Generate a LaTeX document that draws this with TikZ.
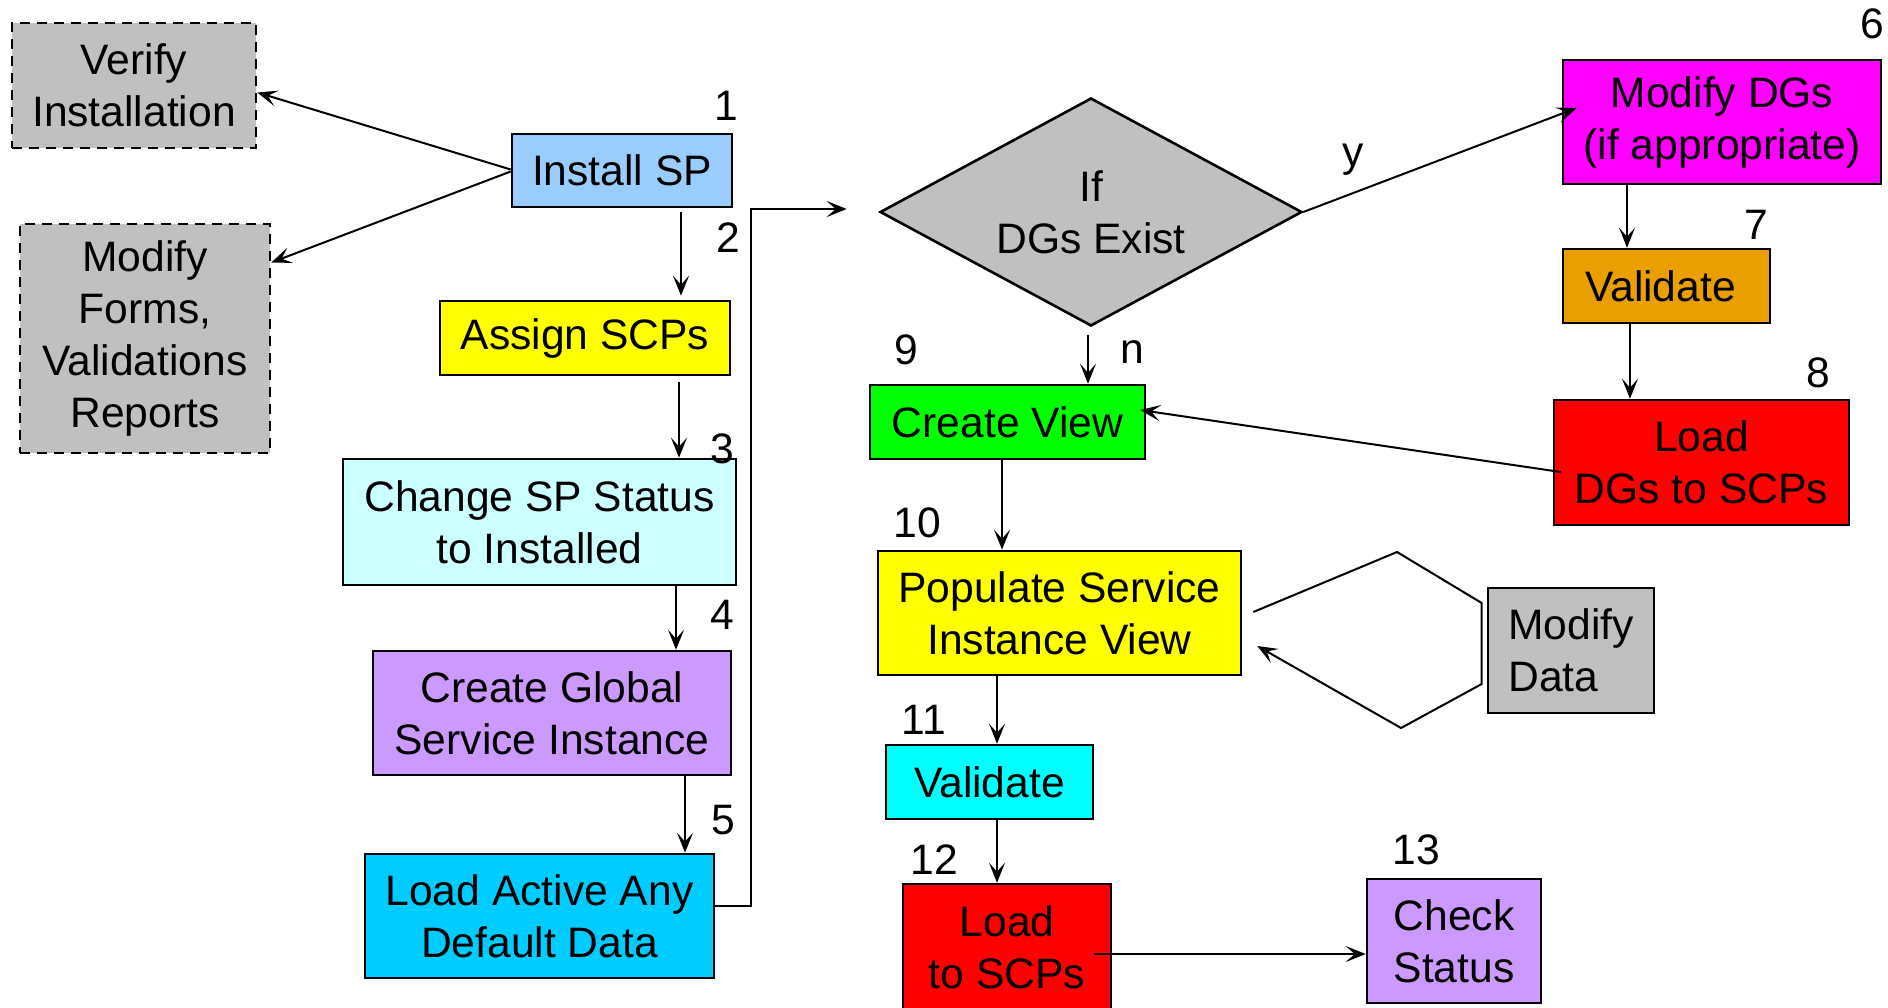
\documentclass[tikz,border=0pt]{standalone}
\usepackage{fontspec}
\setmainfont{Liberation Sans}
\usetikzlibrary{shapes.geometric,arrows.meta,calc}
\definecolor{cgray}{HTML}{C0C0C0}
\definecolor{cblue}{HTML}{99CCFF}
\definecolor{cyel}{HTML}{FFFF00}
\definecolor{clcyan}{HTML}{CCFFFF}
\definecolor{cpurp}{HTML}{CC99FF}
\definecolor{csky}{HTML}{00CCFF}
\definecolor{cmag}{HTML}{FF00FF}
\definecolor{corange}{HTML}{EA9F00}
\definecolor{cred}{HTML}{FF0000}
\definecolor{cgreen}{HTML}{00FF00}
\definecolor{ccyan}{HTML}{00FFFF}
\begin{document}
\begin{tikzpicture}[x=0.5pt,y=-0.5pt,
  every node/.style={font=\fontsize{21.3}{26}\selectfont},
  box/.style={draw=black,line width=1.3pt,rectangle,inner sep=0pt,align=center},
  dbox/.style={box,dash pattern=on 5pt off 3.5pt},
  arr/.style={line width=1pt,-{Stealth[length=10pt,width=8pt,inset=4.5pt]}},
  lbl/.style={inner sep=0pt}]
\useasboundingbox (0,0) rectangle (1888,1007);
\begin{scope}
\clip (0,0) rectangle (1888,1007);
% left column
\node[dbox,fill=cgray,minimum width=122pt,minimum height=62.5pt] (verify) at (134,85.5) {Verify\\Installation};
\node[dbox,fill=cgray,minimum width=125pt,minimum height=114.5pt] (forms) at (145,338.5) {Modify\\Forms,\\Validations\\Reports};
\node[box,fill=cblue,minimum width=110pt,minimum height=36.5pt] (install) at (622,170.5) {Install SP};
\node[box,fill=cyel,minimum width=145pt,minimum height=37pt] (assign) at (585,338) {Assign SCPs};
\node[box,fill=clcyan,minimum width=196.5pt,minimum height=63pt] (change) at (539.5,522) {Change SP Status\\to Installed};
\node[box,fill=cpurp,minimum width=179pt,minimum height=62pt] (global) at (552,713) {Create Global\\Service Instance};
\node[box,fill=csky,minimum width=174.5pt,minimum height=62pt] (loadact) at (539.5,916) {Load Active Any\\Default Data};
% decision
\node[diamond,draw=black,line width=1.3pt,fill=cgray,inner sep=0pt,aspect=1.85,minimum width=211pt,minimum height=114pt,align=center] (dia) at (1091,212) {If\\DGs Exist};
% right column
\node[box,fill=cmag,minimum width=159pt,minimum height=62pt] (modifydgs) at (1722,122) {Modify DGs\\(if appropriate)};
\node[box,fill=corange,minimum width=103.5pt,minimum height=37pt] (val7) at (1666.5,286) {Validate\hspace*{6pt}};
\node[box,fill=cred,minimum width=147.5pt,minimum height=62.5pt] (loaddgs) at (1701.5,462.5) {Load\\DGs to SCPs};
% middle column
\node[box,fill=cgreen,minimum width=137.5pt,minimum height=37pt] (create) at (1007.5,422) {Create View};
\node[box,fill=cyel,minimum width=181.5pt,minimum height=62pt] (populate) at (1059.5,613) {Populate Service\\Instance View};
\node[box,fill=cgray,minimum width=83pt,minimum height=62.5pt,align=left] (modifydata) at (1571,650.5) {Modify\\Data};
\node[box,fill=ccyan,minimum width=103.5pt,minimum height=37pt] (val11) at (989.5,782) {Validate};
\node[box,fill=cred,minimum width=104pt,minimum height=63pt] (load12) at (1007,947) {Load\\to SCPs};
\node[box,fill=cpurp,minimum width=87pt,minimum height=62pt] (check) at (1454,941) {Check\\Status};
% step numbers
\node[lbl] (n1) at (726,106) {1};
\node[lbl] (n2) at (728,238) {2};
\node[lbl] (n3) at (722,449) {3};
\node[lbl] (n4) at (722,615) {4};
\node[lbl] (n5) at (723,820) {5};
\node[lbl] (n6) at (1872,24) {6};
\node[lbl] (n7) at (1756,225) {7};
\node[lbl] (n8) at (1818,373) {8};
\node[lbl] (n9) at (906,350) {9};
\node[lbl] (n10) at (917,523) {10};
\node[lbl] (n11) at (924,720) {11};
\node[lbl] (n12) at (934,860) {12};
\node[lbl] (n13) at (1416,850) {13};
\node[lbl] (ln) at (1132,352) {n};
\node[lbl] (ly) at (1353,160) {y};
% connectors
\draw[arr] ($(install.west)+(0,-1)$) -- ($(verify.east)+(0,7)$);
\draw[arr] ($(install.west)+(0,1)$) -- ($(forms.east)+(0,-76)$);
\draw[arr] ($(install.south)+(59,4)$) -- ($(assign.north)+(96,-4)$);
\draw[arr] ($(assign.south)+(94,6)$) -- ($(change.north)+(139.5,0)$);
\draw[arr] ($(change.south)+(136.5,0)$) -- ($(global.north)+(124,0)$);
\draw[arr] ($(global.south)+(133,0)$) -- ($(loadact.north)+(145.5,0)$);
\draw[arr] ($(loadact.east)+(0,-10)$) -| ($(dia.west)+(-128,-3)$) -- ($(dia.west)+(-32,-3)$);
\draw[arr] ($(dia.south)+(-3,8)$) -- ($(create.north)+(80.5,0)$);
\draw[arr] (dia.east) -- ($(modifydgs.west)+(15,-14)$);
\draw[arr] ($(modifydgs.south)+(-95,0)$) -- ($(val7.north)+(-39.5,0)$);
\draw[arr] ($(val7.south)+(-36.5,0)$) -- ($(loaddgs.north)+(-71.5,0)$);
\draw[arr] ($(loaddgs.west)+(8,9.5)$) -- ($(create.east)+(-6,-12)$);
\draw[arr] ($(create.south)+(-5.5,0)$) -- ($(populate.north)+(-57.5,0)$);
\coordinate (lp1) at (1397,552);
\coordinate (lp2) at (1401,728);
\draw[arr] ($(populate.east)+(11,-1)$) -- (lp1) -- ($(modifydata.west)+(-5,-47.5)$) -- ($(modifydata.west)+(-5,33.5)$) -- (lp2) -- ($(populate.east)+(15,33)$);
\draw[arr] ($(populate.south)+(-62.5,0)$) -- ($(val11.north)+(7.5,0)$);
\draw[arr] ($(val11.south)+(7.5,0)$) -- ($(load12.north)+(-10,0)$);
\draw[arr] ($(load12.east)+(-18,7)$) -- ($(check.west)+(0,13)$);
\end{scope}
\end{tikzpicture}
\end{document}
